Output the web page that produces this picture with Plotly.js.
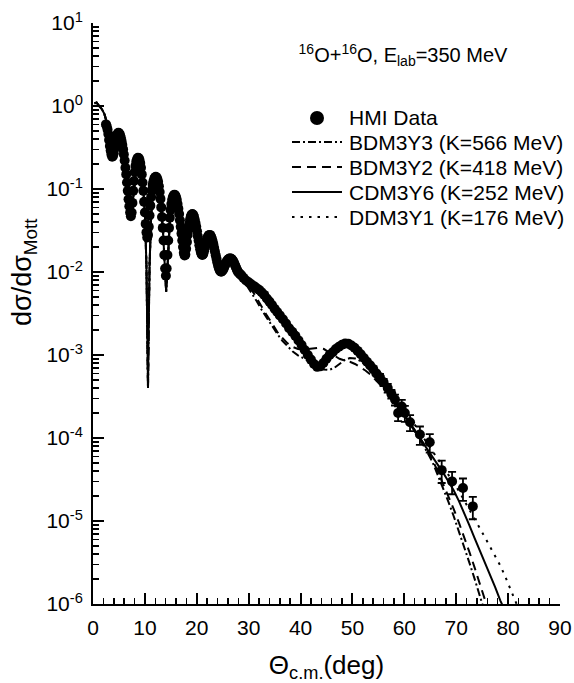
<!DOCTYPE html>
<html><head><meta charset="utf-8">
<script src="https://cdn.plot.ly/plotly-3.0.1.min.js"></script>
<style>html,body{margin:0;padding:0;background:#fff}#chart{width:574px;height:683px}</style>
</head><body><div id="chart"></div>
<script>
// ---- HMI data (no visible error bars) ----
const hmiDeg = [2.50,2.65,2.80,2.95,3.10,3.25,3.40,3.55,3.70,3.85,
 4.00,4.15,4.30,4.45,4.60,4.75,4.90,5.05,5.20,5.35,
 5.50,5.65,5.80,5.95,6.10,6.25,6.40,6.55,6.70,6.85,
 7.00,7.15,7.30,7.45,7.60,7.75,7.90,8.05,8.20,8.35,
 8.50,8.65,8.80,8.95,9.10,9.25,9.40,9.55,9.70,9.85,
 10.00,10.15,10.30,10.45,10.60,10.75,10.90,11.05,11.20,11.35,
 11.50,11.65,11.80,11.95,12.10,12.25,12.40,12.55,12.70,12.85,
 13.00,13.15,13.30,13.45,13.60,13.75,13.90,14.05,14.20,14.35,
 14.50,14.65,14.80,14.95,15.10,15.25,15.40,15.55,15.70,15.85,
 16.00,16.15,16.30,16.45,16.60,16.75,16.90,17.05,17.20,17.35,
 17.50,17.65,17.80,17.95,18.10,18.25,18.40,18.55,18.70,18.85,
 19.00,19.15,19.30,19.45,19.60,19.75,19.90,20.05,20.20,20.35,
 20.50,20.65,20.80,20.95,21.10,21.25,21.40,21.55,21.70,21.85,
 22.00,22.15,22.30,22.45,22.60,22.75,22.90,23.05,23.20,23.35,
 23.50,23.65,23.80,23.95,24.10,24.25,24.40,24.55,24.70,24.85,
 25.00,25.15,25.30,25.45,25.60,25.75,25.90,26.05,26.20,26.35,
 26.50,26.65,26.80,26.95,27.10,27.25,27.40,27.55,27.70,27.85,
 28.00,28.3,28.6,29.0,29.5,30.0,30.5,31.0,31.5,32.0,
 32.5,33.0,33.5,34.0,34.5,35.0,35.5,36.0,36.6,37.2,
 37.8,38.4,39.0,39.6,40.2,40.8,41.4,42.0,42.6,43.2,
 43.8,44.4,45.0,45.6,46.2,46.8,47.4,48.0,48.6,49.2,
 49.8,50.4,51.0,51.6,52.2,52.8,53.4,54.0,54.6];
const hmiVal = [0.60,0.57,0.52,0.46,0.39,0.33,0.29,0.26,0.245,0.25,
 0.27,0.31,0.35,0.40,0.44,0.465,0.475,0.47,0.45,0.42,
 0.38,0.34,0.30,0.26,0.22,0.18,0.15,0.12,0.095,0.075,
 0.062,0.052,0.047,0.052,0.068,0.095,0.125,0.16,0.19,0.215,
 0.23,0.238,0.236,0.225,0.205,0.18,0.15,0.12,0.095,0.07,
 0.052,0.038,0.03,0.026,0.028,0.035,0.048,0.063,0.08,0.097,
 0.112,0.124,0.133,0.138,0.14,0.138,0.132,0.122,0.108,0.092,
 0.076,0.06,0.046,0.034,0.024,0.016,0.011,0.009,0.011,0.016,
 0.024,0.034,0.045,0.056,0.066,0.074,0.08,0.084,0.085,0.084,
 0.08,0.074,0.066,0.058,0.05,0.042,0.035,0.029,0.024,0.02,
 0.017,0.0158,0.0162,0.019,0.023,0.028,0.033,0.038,0.043,0.047,
 0.049,0.05,0.049,0.047,0.043,0.039,0.035,0.031,0.027,0.024,
 0.021,0.0188,0.0172,0.0163,0.016,0.0165,0.0178,0.0196,0.0215,0.0235,
 0.0253,0.0267,0.0276,0.028,0.0278,0.0268,0.0253,0.0235,0.0215,0.0195,
 0.0176,0.0159,0.0144,0.0131,0.012,0.0112,0.0106,0.0102,0.0101,0.0102,
 0.0105,0.0109,0.0115,0.0121,0.0127,0.0133,0.0138,0.0141,0.0144,0.0145,
 0.0145,0.0144,0.0141,0.0137,0.0132,0.0126,0.012,0.0114,0.0108,0.0103,
 0.0099,0.0095,0.0091,0.0085,0.0079,0.0075,0.0071,0.0068,0.0064,0.0061,
 0.0057,0.0053,0.0048,0.0044,0.004,0.0036,0.0033,0.003,0.0027,0.0024,
 0.0021,0.0019,0.0017,0.0015,0.00132,0.00115,0.001,0.00088,0.00078,0.00072,
 0.00073,0.0008,0.0009,0.001,0.00108,0.00118,0.00126,0.00133,0.00138,0.00137,
 0.0013,0.00122,0.00112,0.00102,0.00092,0.00083,0.00075,0.00068,0.0006];
// ---- HMI data with error bars (large angles) ----
const hmiErrDeg = [55.3,56.0,56.8,57.5,58.2,58.8,59.5,60.1,61.1,63.0,64.9,67.2,69.2,71.3,73.2];
const hmiErrVal = [5.4e-4,4.7e-4,4.0e-4,3.4e-4,2.9e-4,2.0e-4,2.4e-4,2.0e-4,1.55e-4,1.1e-4,8.9e-5,4.1e-5,3.0e-5,2.5e-5,1.5e-5];
const hmiErrRel = [0.1,0.1,0.12,0.12,0.15,0.2,0.2,0.22,0.22,0.25,0.25,0.3,0.3,0.3,0.3];

// ---- Model curves: common small-angle part (all four overlap) ----
const thDeg = [0.3,0.7,1.2,1.7,2.2,2.7,3.1,3.5,3.8,4.1,
 4.5,4.9,5.3,5.7,6.1,6.5,6.9,7.2,7.4,7.7,
 8.0,8.4,8.8,9.2,9.6,10.0,10.3,10.5,10.6,10.7,
 10.9,11.2,11.6,12.0,12.3,12.7,13.1,13.5,13.8,14.1,
 14.4,14.8,15.2,15.7,16.2,16.7,17.2,17.7,18.2,18.7,
 19.2,19.7,20.2,20.7,21.2,21.7,22.2,22.6,23.1,23.6,
 24.1,24.6,25.1,25.7,26.3,26.8,27.4,28.0];
const thVal = [1.08,1.1,1.0,0.92,0.8,0.62,0.42,0.28,0.25,0.28,
 0.40,0.48,0.47,0.37,0.24,0.13,0.07,0.048,0.045,0.07,
 0.13,0.21,0.24,0.2,0.12,0.05,0.012,0.0015,0.0004,0.0015,
 0.012,0.045,0.1,0.135,0.14,0.11,0.065,0.03,0.013,0.0058,
 0.013,0.04,0.07,0.085,0.07,0.042,0.024,0.0145,0.027,0.043,
 0.05,0.041,0.028,0.019,0.0155,0.02,0.027,0.028,0.023,0.016,
 0.012,0.0102,0.0104,0.0128,0.0143,0.0143,0.0125,0.0102];
// ---- Model tails (from 28.5 deg, 1 deg steps) ----
const tailDeg = [28.5,29.5,30.5,31.5,32.5,33.5,34.5,35.5,36.5,37.5,
 38.5,39.5,40.5,41.5,42.5,43.5,44.5,45.5,46.5,47.5,
 48.5,49.5,50.5,51.5,52.5,53.5,54.5,55.5,56.5,57.5,
 58.5,59.5,60.5,61.5,62.5,63.5,64.5,65.5,66.5,67.5,
 68.5,69.5,70.5,71.5,72.5,73.5,74.5,75.5,76.5,77.5,
 78.5,79.5,80.5,81.5,82.5];
const bdm3y3Tail = [0.0086,0.0071,0.0057,0.0045,0.0035,0.0028,0.0022,0.0018,0.00148,0.00126,
 0.0011,0.00099,0.00092,0.00086,0.00079,0.00072,0.00067,0.00066,0.0007,0.00078,
 0.00087,0.00092,0.00091,0.00085,0.00076,0.00066,0.00056,0.00047,0.00039,0.00032,
 0.00026,0.00021,0.00017,0.000136,0.000108,8.5e-5,6.6e-5,5.0e-5,3.5e-5,2.5e-5,
 1.7e-5,1.15e-5,7.6e-6,5.0e-6,3.2e-6,2.05e-6,1.3e-6,8.0e-7];
const bdm3y2Tail = [0.0088,0.0074,0.0062,0.0049,0.0038,0.003,0.0024,0.0019,0.0016,0.00138,
 0.00125,0.00118,0.00116,0.00118,0.00121,0.00122,0.00118,0.00108,0.00098,0.0009,
 0.00086,0.00083,0.00078,0.00072,0.00065,0.00058,0.0005,0.00043,0.00037,0.00031,
 0.00026,0.00021,0.000172,0.00014,0.000113,9.0e-5,7.0e-5,5.3e-5,3.9e-5,2.8e-5,
 2.0e-5,1.4e-5,9.6e-6,6.5e-6,4.3e-6,2.8e-6,1.8e-6,1.15e-6,7.3e-7];
const cdm3y6Tail = [0.0092,0.0080,0.0072,0.0065,0.0058,0.0049,0.0041,0.0034,0.0028,0.0023,
 0.0019,0.00157,0.00125,0.00099,0.0008,0.00072,0.00077,0.00092,0.0011,0.00126,
 0.00136,0.00134,0.00122,0.00104,0.00088,0.00074,0.00062,0.0005,0.00041,0.00033,
 0.00026,0.00021,0.00017,0.000137,0.00011,8.9e-5,7.4e-5,6.0e-5,4.8e-5,3.8e-5,
 3.0e-5,2.35e-5,1.75e-5,1.27e-5,9.0e-6,6.3e-6,4.5e-6,3.2e-6,2.2e-6,1.6e-6,
 1.1e-6,8.0e-7];
const ddm3y1Tail = [0.0093,0.0081,0.0073,0.0066,0.0059,0.005,0.0042,0.0035,0.0029,0.0024,
 0.002,0.00165,0.00132,0.00105,0.00086,0.00077,0.0008,0.00093,0.0011,0.00126,
 0.00136,0.00136,0.00126,0.0011,0.00094,0.0008,0.00067,0.00056,0.00046,0.00038,
 0.00031,0.00025,0.0002,0.000162,0.00013,0.000105,8.5e-5,6.9e-5,5.6e-5,4.5e-5,
 3.6e-5,2.9e-5,2.3e-5,1.8e-5,1.4e-5,1.08e-5,8.3e-6,6.4e-6,4.9e-6,3.8e-6,
 2.9e-6,2.1e-6,1.5e-6,1.05e-6,7.4e-7];

const legendNames = ['HMI Data','BDM3Y3 (K=566 MeV)','BDM3Y2 (K=418 MeV)','CDM3Y6 (K=252 MeV)','DDM3Y1 (K=176 MeV)'];
const yTickVals = [1e-6,1e-5,1e-4,1e-3,1e-2,1e-1,1,10];
const yTickText = ['10<sup>-6</sup>','10<sup>-5</sup>','10<sup>-4</sup>','10<sup>-3</sup>','10<sup>-2</sup>','10<sup>-1</sup>','10<sup>0</sup>','10<sup>1</sup>'];

// ---- styling ----
const FONT = 'Liberation Sans, Arial, Helvetica, sans-serif';
const W = 574, H = 683, L = 93, R = 14, T = 23, B = 79;
const pw = W - L - R, ph = H - T - B;
const px = x => (x - L) / pw;
const py = y => (H - B - y) / ph;
const dashes = ['8px,3px,2px,3px', '9px,6px', 'solid', '2.5px,6px'];

const minorY = [];
for (let e = -6; e < 1; e++) for (let d = 2; d <= 9; d++) minorY.push(d * Math.pow(10, e));

function model(tail) {
  return {x: thDeg.concat(tailDeg.slice(0, tail.length)), y: thVal.concat(tail)};
}
const models = [bdm3y3Tail, bdm3y2Tail, cdm3y6Tail, ddm3y1Tail].map(model);

const traces = [
  {type:'scatter', mode:'markers', x:hmiDeg, y:hmiVal, name:legendNames[0], showlegend:false,
   marker:{color:'#000', size:10, line:{width:0}}},
  {type:'scatter', mode:'markers', x:hmiErrDeg, y:hmiErrVal, name:legendNames[0], showlegend:false,
   marker:{color:'#000', size:10, line:{width:0}},
   error_y:{type:'data', array:hmiErrVal.map((v,i)=>v*hmiErrRel[i]), color:'#000', thickness:1.8, width:4}}
];
models.forEach((m, i) => {
  traces.push({type:'scatter', mode:'lines', x:m.x, y:m.y, name:legendNames[i+1], showlegend:false,
    line:{color:'#000', width:2, dash:dashes[i]}});
});

// ---- custom legend ----
const legY = [118, 142, 167, 192, 217];
const shapes = [{type:'circle', xref:'paper', yref:'paper', x0:px(310), x1:px(324), y0:py(125), y1:py(111),
  fillcolor:'#000', line:{width:0}}];
for (let i = 1; i < 5; i++) {
  shapes.push({type:'line', xref:'paper', yref:'paper', x0:px(292), x1:px(342), y0:py(legY[i]), y1:py(legY[i]),
    line:{color:'#000', width:2, dash:dashes[i-1]}});
}
const annotations = legendNames.map((n, i) => ({xref:'paper', yref:'paper', x:px(347), y:py(legY[i]),
  xanchor:'left', yanchor:'middle', text:n, showarrow:false, font:{size:21, family:FONT, color:'#000'}}));
// y-axis title placed as a rotated annotation
annotations.push({xref:'paper', yref:'paper', x:px(24), y:py(272), xanchor:'center', yanchor:'middle',
  textangle:-90, showarrow:false, text:'dσ/dσ<sub>Mott</sub>', font:{size:27, family:FONT, color:'#000'}});

const layout = {
  width:W, height:H, margin:{l:L, r:R, t:T, b:B},
  paper_bgcolor:'#fff', plot_bgcolor:'#fff',
  font:{family:FONT, color:'#000'},
  showlegend:false,
  title:{text:'<sup>16</sup>O+<sup>16</sup>O, E<sub>lab</sub>=350 MeV', font:{size:20, family:FONT, color:'#000'},
    xref:'paper', x:px(403), xanchor:'center', yref:'container', y:1 - 55/H, yanchor:'middle'},
  xaxis:{range:[0,90], tickmode:'linear', tick0:0, dtick:10, ticks:'inside', ticklen:11, tickwidth:2, tickcolor:'#000',
    showline:true, linecolor:'#000', linewidth:2, showgrid:false, zeroline:false,
    tickfont:{size:21, family:FONT}, ticklabelstandoff:4,
    minor:{dtick:2, ticks:'inside', ticklen:6, tickwidth:1.5, tickcolor:'#000', showgrid:false},
    title:{text:'Θ<sub>c.m.</sub>(deg)', font:{size:26, family:FONT}}},
  yaxis:{type:'log', range:[-6,1], tickmode:'array', tickvals:yTickVals, ticktext:yTickText,
    ticks:'inside', ticklen:11, tickwidth:2, tickcolor:'#000',
    showline:true, linecolor:'#000', linewidth:2, showgrid:false, zeroline:false,
    tickfont:{size:21, family:FONT}, ticklabelstandoff:4,
    minor:{tickmode:'array', tickvals:minorY, ticks:'inside', ticklen:6, tickwidth:1.5, tickcolor:'#000', showgrid:false}},
  shapes:shapes, annotations:annotations
};
Plotly.newPlot('chart', traces, layout, {displayModeBar:false, staticPlot:true});
</script></body></html>
